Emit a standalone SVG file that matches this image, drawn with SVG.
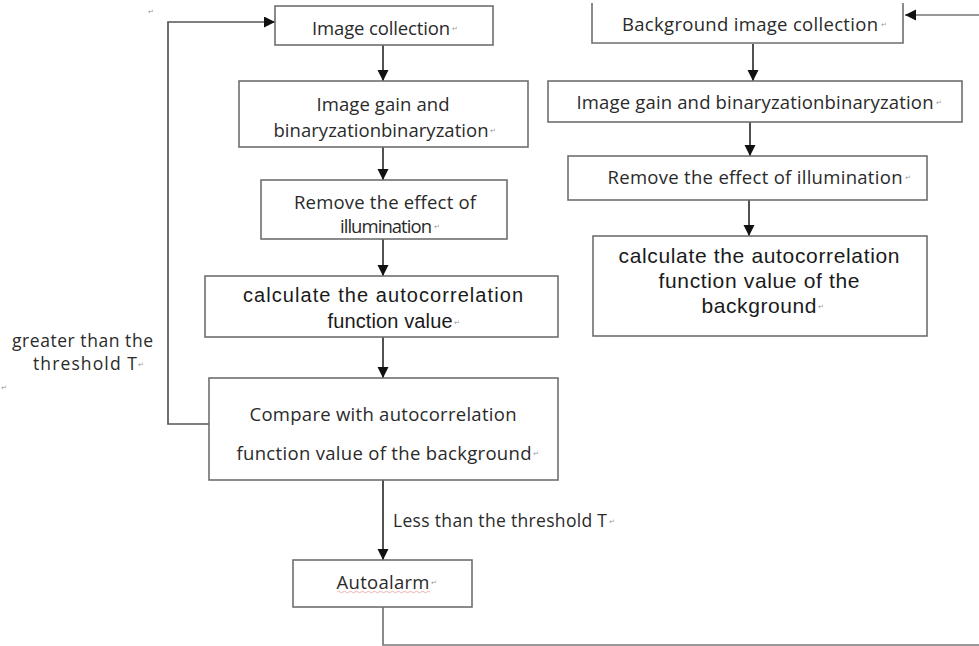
<svg xmlns="http://www.w3.org/2000/svg" width="979" height="646" viewBox="0 0 979 646">
<defs>
<marker id="ah" markerUnits="userSpaceOnUse" markerWidth="12" markerHeight="12" refX="11" refY="5.5" orient="auto">
<path d="M0,0 L11,5.5 L0,11 z" fill="#111"/>
</marker>
<style>
.box{fill:#fff;stroke:#6f6f6f;stroke-width:1.6}
.t{font-family:"Open Sans","Liberation Sans",Arial,sans-serif;font-size:18.5px;fill:#2a2a2a;text-anchor:middle;dominant-baseline:central}
.a{font-family:"Liberation Sans",Arial,sans-serif;font-size:20px;fill:#1a1a1a;text-anchor:middle;dominant-baseline:central}
.ar{font-size:21px}
.l{font-family:"Open Sans","Liberation Sans",Arial,sans-serif;font-size:17.5px;fill:#2a2a2a;dominant-baseline:central}
.pm{font-family:"DejaVu Sans",sans-serif;font-size:7px;fill:#999;dominant-baseline:central}
.c{fill:none;stroke:#333;stroke-width:1.7}
</style>
</defs>
<rect width="979" height="646" fill="#fff"/>

<g id="connectors">
<path class="c" d="M383 45 V81" marker-end="url(#ah)"/>
<path class="c" d="M383 147 V180" marker-end="url(#ah)"/>
<path class="c" d="M383 239 V276" marker-end="url(#ah)"/>
<path class="c" d="M383 337 V378" marker-end="url(#ah)"/>
<path class="c" d="M383 480 V560" marker-end="url(#ah)"/>
<path class="c" d="M209 424 H168 V22 H275" marker-end="url(#ah)" style="stroke:#555"/>
<path class="c" d="M383 607 V645 H990 V15 H905" marker-end="url(#ah)" style="stroke:#777"/>
<path class="c" d="M753 44 V81" marker-end="url(#ah)"/>
<path class="c" d="M750 122 V156" marker-end="url(#ah)"/>
<path class="c" d="M749 200 V236" marker-end="url(#ah)"/>
<text class="l" x="393" y="520" textLength="214">Less than the threshold T</text>
<text class="pm" x="609" y="522">↵</text>
<text class="l" x="12" y="340" textLength="141">greater than the</text>
<text class="l" x="33" y="363" textLength="104">threshold T</text>
<text class="pm" x="138" y="365">↵</text>
<text class="pm" x="1" y="388">↵</text>
<text class="pm" x="148" y="12">↵</text>
</g>

<g id="image-collection">
<rect class="box" x="275" y="6" width="218" height="39"/>
<text class="t" x="381" y="27" textLength="138">Image collection</text>
<text class="pm" x="452" y="29">↵</text>
</g>

<g id="image-gain">
<rect class="box" x="239" y="81" width="289" height="66"/>
<text class="t" x="383" y="103" textLength="133">Image gain and</text>
<text class="t" x="381" y="129" textLength="215">binaryzationbinaryzation</text>
<text class="pm" x="490" y="131">↵</text>
</g>

<g id="remove-illumination">
<rect class="box" x="261" y="180" width="246" height="59"/>
<text class="t" x="385" y="201" textLength="182">Remove the effect of</text>
<text class="t" x="386" y="225" textLength="92">illumination</text>
<text class="pm" x="434" y="227">↵</text>
</g>

<g id="calc-autocorrelation">
<rect class="box" x="205" y="276" width="353" height="61"/>
<text class="a" x="383" y="295" textLength="280">calculate the autocorrelation</text>
<text class="a" x="390" y="321" textLength="125">function value</text>
<text class="pm" x="454" y="323">↵</text>
</g>

<g id="compare">
<rect class="box" x="209" y="378" width="349" height="102"/>
<text class="t" x="383" y="413" textLength="267">Compare with autocorrelation</text>
<text class="t" x="384" y="452" textLength="295">function value of the background</text>
<text class="pm" x="533" y="454">↵</text>
</g>

<g id="autoalarm">
<rect class="box" x="293" y="560" width="179" height="47"/>
<text class="t" x="383" y="581" textLength="93">Autoalarm</text>
<text class="pm" x="431" y="583">↵</text>
<path d="M337 592 q1.5 -1.5 3 0 t3 0 t3 0 t3 0 t3 0 t3 0 t3 0 t3 0 t3 0 t3 0 t3 0 t3 0 t3 0 t3 0 t3 0 t3 0 t3 0 t3 0 t3 0 t3 0 t3 0 t3 0 t3 0 t3 0 t3 0 t3 0 t3 0 t3 0 t3 0 t3 0 t3 0" fill="none" stroke="#e2a0a0" stroke-width="0.8"/>
</g>

<g id="bg-collection">
<path class="box" d="M592 3 V43 H903 V3"/>
<text class="t" x="750" y="23" textLength="256">Background image collection</text>
<text class="pm" x="881" y="25">↵</text>
</g>

<g id="bg-gain">
<rect class="box" x="548" y="81" width="414" height="41"/>
<text class="t" x="755" y="101" textLength="357">Image gain and binaryzationbinaryzation</text>
<text class="pm" x="936" y="103">↵</text>
</g>

<g id="bg-remove">
<rect class="box" x="568" y="156" width="359" height="44"/>
<text class="t" x="755" y="176" textLength="295">Remove the effect of illumination</text>
<text class="pm" x="905" y="178">↵</text>
</g>

<g id="bg-calc">
<rect class="box" x="593" y="236" width="334" height="100"/>
<text class="a ar" x="759" y="255" textLength="281">calculate the autocorrelation</text>
<text class="a ar" x="759" y="280" textLength="201">function value of the</text>
<text class="a ar" x="759" y="305" textLength="115">background</text>
<text class="pm" x="818" y="307">↵</text>
</g>
</svg>
